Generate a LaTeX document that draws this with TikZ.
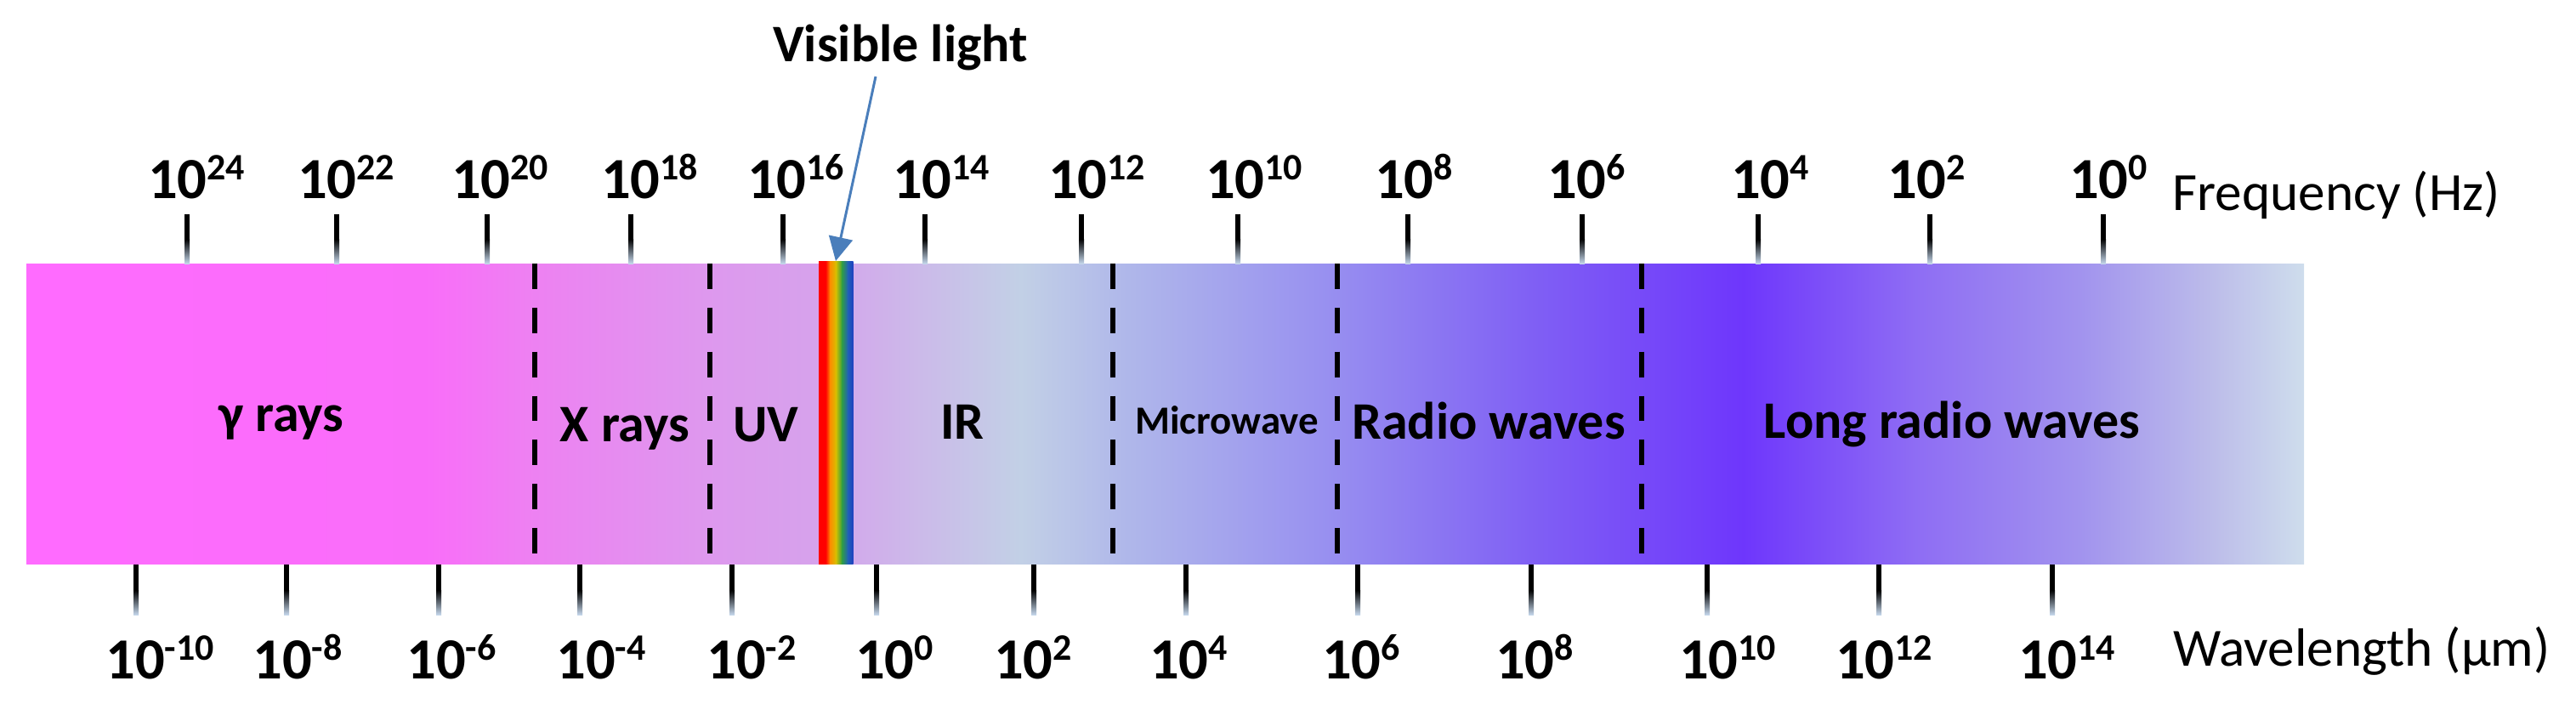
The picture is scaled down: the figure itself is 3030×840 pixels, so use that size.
\documentclass[tikz,border=0pt]{standalone}
\usepackage{fontspec}
\setmainfont{Carlito}
\usetikzlibrary{arrows.meta}

\newcommand\numfnt{\fontsize{39}{44}\selectfont\bfseries}
\newcommand\supfnt{\fontsize{25}{28}\selectfont\bfseries}
\newcommand\bandfnt{\fontsize{35.3}{40}\selectfont\bfseries}
\newcommand\smallbandfnt{\fontsize{26.7}{30}\selectfont\bfseries}
\newcommand\axfnt{\fontsize{36}{40}\selectfont}
\newcommand\tenpow[1]{10\raisebox{12pt}{\supfnt #1}}

\definecolor{s0}{HTML}{FF6BFF}
\definecolor{s1}{HTML}{F96DF9}
\definecolor{s2}{HTML}{EE80F2}
\definecolor{s3}{HTML}{DE98EE}
\definecolor{s4}{HTML}{D6A2EC}
\definecolor{s5}{HTML}{CEB4EA}
\definecolor{s6}{HTML}{C2D0E6}
\definecolor{s7}{HTML}{B0B8EA}
\definecolor{s8}{HTML}{9890F0}
\definecolor{s9}{HTML}{8060F4}
\definecolor{s10}{HTML}{6E36FC}
\definecolor{s11}{HTML}{8E6CF4}
\definecolor{s12}{HTML}{A294EE}
\definecolor{s13}{HTML}{BCBCEA}
\definecolor{s14}{HTML}{CEDDEC}
\definecolor{r0}{HTML}{FF0000}
\definecolor{r1}{HTML}{FF0000}
\definecolor{r2}{HTML}{FF8A00}
\definecolor{r3}{HTML}{D8C000}
\definecolor{r4}{HTML}{30A040}
\definecolor{r5}{HTML}{2060B8}
\definecolor{r6}{HTML}{2040C0}
\definecolor{tickfade}{HTML}{C4D6EA}
\definecolor{arrowblue}{HTML}{4A7EBB}

\begin{document}
\begin{tikzpicture}[x=0.02cm,y=-0.02cm,
  num/.style={anchor=base,inner sep=0pt,font=\numfnt},
  band/.style={anchor=base,inner sep=0pt,font=\bandfnt},
  axislabel/.style={anchor=base west,inner sep=0pt,font=\axfnt},
  divider/.style={line width=3.4pt,dash pattern=on 17pt off 12.5pt},
  pointer/.style={draw=arrowblue,line width=1.7pt,-{Triangle[length=16pt,width=16pt]}}]
\useasboundingbox (0,0) rectangle (3030,840);

% spectrum bar
\foreach \xa/\ca/\xb/\cb in {31/s0/500/s1,500/s1/620/s2,620/s2/830/s3,830/s3/960/s4,
  960/s4/1050/s5,1050/s5/1200/s6,1200/s6/1320/s7,1320/s7/1560/s8,1560/s8/1800/s9,
  1800/s9/2050/s10,2050/s10/2250/s11,2250/s11/2450/s12,2450/s12/2600/s13,2600/s13/2709/s14}
  \shade[left color=\ca,right color=\cb] (\xa,310) rectangle (\xb+1,663);

% dividers
\foreach \x in {629,835,1309,1573,1931}
  \draw[divider] (\x,310) -- (\x,663);

% visible band
\foreach \xa/\ca/\xb/\cb in {963/r0/971/r1,971/r1/976/r2,976/r2/983/r3,983/r3/990/r4,
  990/r4/997/r5,997/r5/1003/r6}
  \shade[left color=\ca,right color=\cb] (\xa,307) rectangle (\xb+0.6,663);
\coordinate (vtip) at (983,307);

% frequency ticks and labels
\foreach \tx/\lx/\e [count=\i] in {220/231/24,396/407/22,573/588/20,742/764/18,921/936/16,
  1088/1107/14,1272/1290/12,1456/1475/10,1656/1663/8,1861/1866/6,2068/2082/4,2270/2266/2,2474/2480/0}{
  \fill[black] (\tx-3,252) rectangle (\tx+3,282);
  \shade[top color=black,bottom color=tickfade] (\tx-3,281) rectangle (\tx+3,310);
  \node[num] (f\i) at (\lx,233) {\tenpow{\e}};
}
\node[axislabel] (freq) at (2555,247) {Frequency (Hz)};

% wavelength ticks and labels
\foreach \tx/\lx/\e [count=\i] in {160/188/-10,337/350/-8,516/531/-6,682/707/-4,861/884/-2,
  1031/1052/0,1216/1215/2,1395/1398/4,1597/1601/6,1801/1805/8,2008/2032/10,2210/2216/12,2414/2431/14}{
  \fill[black] (\tx-3,664) rectangle (\tx+3,695);
  \shade[top color=black,bottom color=tickfade] (\tx-3,694) rectangle (\tx+3,723);
  \node[num] (w\i) at (\lx,798) {\tenpow{\e}};
}
\node[axislabel] (wave) at (2556,783) {Wavelength (µm)};

% band names
\node[band] (gamma) at (331,507) {γ rays};
\node[band] (xray) at (735,519) {X rays};
\node[band] (uv) at (901,519) {UV};
\node[band] (ir) at (1132,516) {IR};
\node[band,font=\smallbandfnt] (micro) at (1443,510) {Microwave};
\node[band] (radio) at (1751,516) {Radio waves};
\node[band] (longradio) at (2296,515) {Long radio waves};

% visible light pointer
\node[band] (vis) at (1059,72) {Visible light};
\coordinate (vtail) at (1030,90);
\draw[pointer] (vtail) -- (vtip);
\end{tikzpicture}
\end{document}
